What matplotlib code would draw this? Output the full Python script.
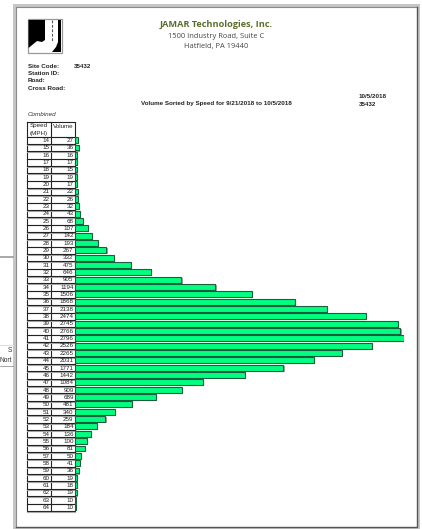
import numpy as np
import matplotlib
matplotlib.use('Agg')
import matplotlib.pyplot as plt
import matplotlib.patheffects as pe
from matplotlib.patches import Rectangle, Polygon

speeds = list(range(14, 65))
volumes = [27, 36, 16, 17, 15, 19, 17, 22, 26, 32, 43, 68, 107, 142, 193, 267, 332, 475,
           646, 905, 1194, 1506, 1868, 2138, 2474, 2745, 2766, 2796, 2526, 2265, 2031,
           1771, 1442, 1084, 909, 689, 481, 340, 259, 184, 136, 100, 81, 50, 41, 36,
           19, 18, 19, 10, 10]

site_labels = ['Site Code:', 'Station ID:', 'Road:', 'Cross Road:']
site_code = '35432'
report_date = '10/5/2018'
report_title = 'Volume Sorted by Speed for 9/21/2018 to 10/5/2018'

W, H = 422, 529
plt.rcParams['font.family'] = ['Liberation Sans', 'DejaVu Sans']

fig = plt.figure(figsize=(W / 100, H / 100), dpi=100)

# page in pixel coordinates
page = fig.add_axes([0, 0, 1, 1])
page.set_xlim(0, W)
page.set_ylim(H, 0)
page.axis('off')

page.add_patch(Rectangle((13, 4), 406.5, 525, fc='#c6c6c6', ec='none'))
page.add_patch(Rectangle((15.5, 6.5), 401.5, 521, fc='white', ec='none'))
page.plot([15.5, 15.5, 417], [527, 6.5, 6.5], color='#8a8a8a', lw=0.8)
page.plot([15.5, 417, 417], [527.3, 527.3, 6.5], color='#555555', lw=1.0)
page.plot([0, 13], [256.5, 256.5], color='#999999', lw=1.2)
page.plot([0, 13], [345, 345], color='#dddddd', lw=0.8)
page.plot([0, 13], [366, 366], color='#999999', lw=0.6)
page.text(12.5, 351, 'S', fontsize=4.8, ha='right', va='center', color='#333333')
page.text(12.5, 360, 'Nort', fontsize=4.8, ha='right', va='center', color='#333333')

# logo
page.add_patch(Rectangle((27.5, 19), 34, 34, fc='white', ec='#999999', lw=0.9))
page.add_patch(Polygon([(28.5, 20), (45, 20), (45, 40), (42, 42), (37, 41), (28.5, 48)], fc='black'))
page.add_patch(Polygon([(58, 20), (61, 20), (61, 52), (52, 52), (56, 47), (58, 42)], fc='black'))
page.plot([51.5, 51.5], [20, 41], color='#555555', lw=0.8, ls=(0, (2.5, 1.5)))

# header
page.text(216, 24.5, 'JAMAR Technologies, Inc.', fontsize=6.6, family='Open Sans', weight='bold',
          color='#5a6e2c', ha='center', va='center')
page.text(216, 36, '1500 Industry Road, Suite C', fontsize=5.4, family='Open Sans',
          color='#444444', ha='center', va='center')
page.text(216, 46.5, 'Hatfield, PA 19440', fontsize=5.4, family='Open Sans',
          color='#444444', ha='center', va='center')

for label, y in zip(site_labels, [66.5, 73.5, 81, 88.5]):
    page.text(27.5, y, label, fontsize=4.5, weight='bold', ha='left', va='center', color='#222222')
page.text(74, 66.5, site_code, fontsize=4.5, weight='bold', ha='left', va='center', color='#222222')
page.text(359, 96, report_date, fontsize=4.5, weight='bold', ha='left', va='center', color='#222222')
page.text(359, 104, site_code, fontsize=4.5, weight='bold', ha='left', va='center', color='#222222')
page.text(216, 104, report_title, fontsize=4.5, weight='bold', ha='center', va='center', color='#222222')
page.text(27.5, 115, 'Combined', fontsize=4.5, style='italic', ha='left', va='center', color='#333333')

# table
row_h = 7.34
top = 136.5
bottom = top + row_h * len(speeds)
page.plot([27, 75, 75, 27, 27], [122, 122, bottom, bottom, 122], color='#222222', lw=0.8)
page.plot([27, 75], [bottom + 0.8, bottom + 0.8], color='#aaaaaa', lw=0.8)
page.plot([51, 51], [122, bottom], color='#222222', lw=0.8)
page.text(39, 126, 'Speed', fontsize=4.5, ha='center', va='center', color='#222222')
page.text(39, 133, '(MPH)', fontsize=4.5, ha='center', va='center', color='#222222')
page.text(63, 126, 'Volume', fontsize=4.5, ha='center', va='center', color='#222222')
for i, (s, v) in enumerate(zip(speeds, volumes)):
    y0 = top + row_h * i
    page.plot([27, 75], [y0 + 0.8, y0 + 0.8], color='#aaaaaa', lw=0.8)
    page.plot([27, 75], [y0, y0], color='#222222', lw=0.8)
    page.text(49.5, y0 + row_h / 2 + 0.3, str(s), fontsize=4.5, ha='right', va='center', color='#222222')
    page.text(73.5, y0 + row_h / 2 + 0.3, str(v), fontsize=4.5, ha='right', va='center', color='#222222')

# bars
ax = fig.add_axes([75 / W, 1 - bottom / H, 329 / W, (bottom - top) / H])
ax.patch.set_alpha(0)
ax.barh(speeds, volumes, height=0.8, color='#00ff80', edgecolor='#1d5c3c', linewidth=0.8,
        path_effects=[pe.SimplePatchShadow(offset=(0.8, -0.8), shadow_rgbFace='#888888', alpha=0.8), pe.Normal()])
ax.set_xlim(0, 2796)
ax.set_ylim(64.5, 13.5)
ax.axis('off')

fig.savefig('out.png', dpi=100)
